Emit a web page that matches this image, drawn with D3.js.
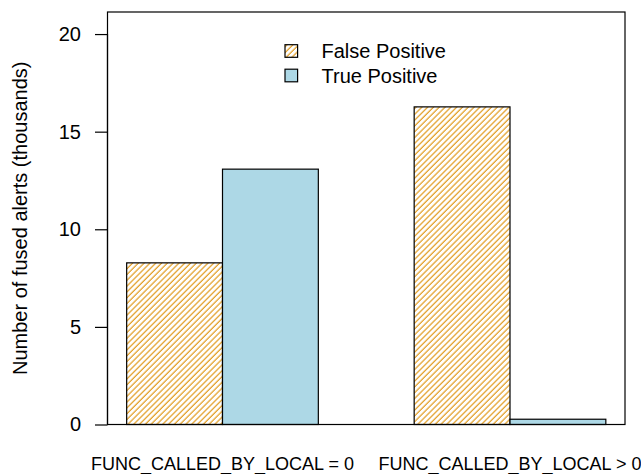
<!DOCTYPE html>
<html>
<head>
<meta charset="utf-8">
<script src="https://cdn.jsdelivr.net/npm/d3@7"></script>
<style>
  html, body { margin: 0; padding: 0; background: #ffffff; }
  svg { display: block; font-family: "Liberation Sans", Arial, Helvetica, sans-serif; }
</style>
</head>
<body>
<svg id="chart" width="641" height="474"></svg>
<script>
// ---- data ----
const categories = ["FUNC_CALLED_BY_LOCAL = 0", "FUNC_CALLED_BY_LOCAL > 0"];
const seriesNames = ["False Positive", "True Positive"];
const falsePositive = [8.28, 16.27];
const truePositive = [13.08, 0.27];
const yTicks = [0, 5, 10, 15, 20];
const yTitle = "Number of fused alerts (thousands)";

// ---- layout ----
const W = 641, H = 474;
const box = { left: 107.5, right: 625, top: 12, bottom: 424.5 };
const yMax = 21.13;

const svg = d3.select("#chart");

// hatch pattern
const defs = svg.append("defs");
const pat = defs.append("pattern")
  .attr("id", "hatch")
  .attr("patternUnits", "userSpaceOnUse")
  .attr("width", 4.1)
  .attr("height", 10)
  .attr("patternTransform", "rotate(45)");
pat.append("rect").attr("width", 4.1).attr("height", 10).attr("fill", "#ffffff");
pat.append("line")
  .attr("x1", 1).attr("y1", 0).attr("x2", 1).attr("y2", 10)
  .attr("stroke", "#E3A22E").attr("stroke-width", 1.3);

const fills = ["url(#hatch)", "#ADD8E6"];

// x positions in R barplot units: groups of 2 bars with 1 bar gap
const nSeries = seriesNames.length;
const groupStart = categories.map((c, i) => 1 + i * (nSeries + 1));
const xMin = 1, xMaxU = groupStart[groupStart.length - 1] + nSeries;
const pad = (xMaxU - xMin) * 0.04;
const x = d3.scaleLinear().domain([xMin - pad, xMaxU + pad]).range([box.left, box.right]);
const y = d3.scaleLinear().domain([0, yMax]).range([box.bottom, box.top]);

const series = [falsePositive, truePositive];
const bars = [];
categories.forEach((c, gi) => {
  series.forEach((vals, si) => {
    bars.push({ g: gi, s: si, x0: groupStart[gi] + si, v: vals[gi] });
  });
});

svg.append("g").selectAll("rect")
  .data(bars)
  .enter().append("rect")
  .attr("x", d => x(d.x0))
  .attr("y", d => y(d.v))
  .attr("width", d => x(d.x0 + 1) - x(d.x0))
  .attr("height", d => y(0) - y(d.v))
  .attr("fill", d => fills[d.s])
  .attr("stroke", "#000")
  .attr("stroke-width", 1.2);

// plot box
svg.append("rect")
  .attr("x", box.left).attr("y", box.top)
  .attr("width", box.right - box.left).attr("height", box.bottom - box.top)
  .attr("fill", "none").attr("stroke", "#000").attr("stroke-width", 1.2);

// y axis
const yAxis = d3.axisLeft(y).tickValues(yTicks).tickSize(12.5).tickPadding(14).tickFormat(d3.format("d"));
const yg = svg.append("g").attr("transform", `translate(${box.left},0)`).call(yAxis);
yg.select(".domain").remove();
yg.append("line")
  .attr("x1", 0).attr("x2", 0)
  .attr("y1", y(yTicks[0])).attr("y2", y(yTicks[yTicks.length - 1]))
  .attr("stroke", "#000").attr("stroke-width", 1.2);
yg.selectAll(".tick line").attr("stroke", "#000").attr("stroke-width", 1.2);
yg.selectAll(".tick text")
  .attr("font-size", 20)
  .attr("font-family", "\"Liberation Sans\", Arial, sans-serif")
  .attr("fill", "#000");

// y title
svg.append("text")
  .attr("transform", `translate(27,${(box.top + box.bottom) / 2}) rotate(-90)`)
  .attr("text-anchor", "middle")
  .attr("font-size", 20)
  .attr("fill", "#000")
  .text(yTitle);

// category labels
svg.append("g").selectAll("text")
  .data(categories)
  .enter().append("text")
  .attr("x", (d, i) => x(groupStart[i] + nSeries / 2))
  .attr("y", 470)
  .attr("text-anchor", "middle")
  .attr("font-size", 18)
  .attr("fill", "#000")
  .text(d => d);

// legend
const legend = svg.append("g");
const legY = [51, 75.5];
seriesNames.forEach((name, i) => {
  legend.append("rect")
    .attr("x", 285).attr("y", legY[i] - 6.3)
    .attr("width", 12.6).attr("height", 12.6)
    .attr("fill", fills[i]).attr("stroke", "#000").attr("stroke-width", 1.2);
  legend.append("text")
    .attr("x", 321.5).attr("y", legY[i] + 7)
    .attr("font-size", 20)
    .attr("fill", "#000")
    .text(name);
});
</script>
</body>
</html>
